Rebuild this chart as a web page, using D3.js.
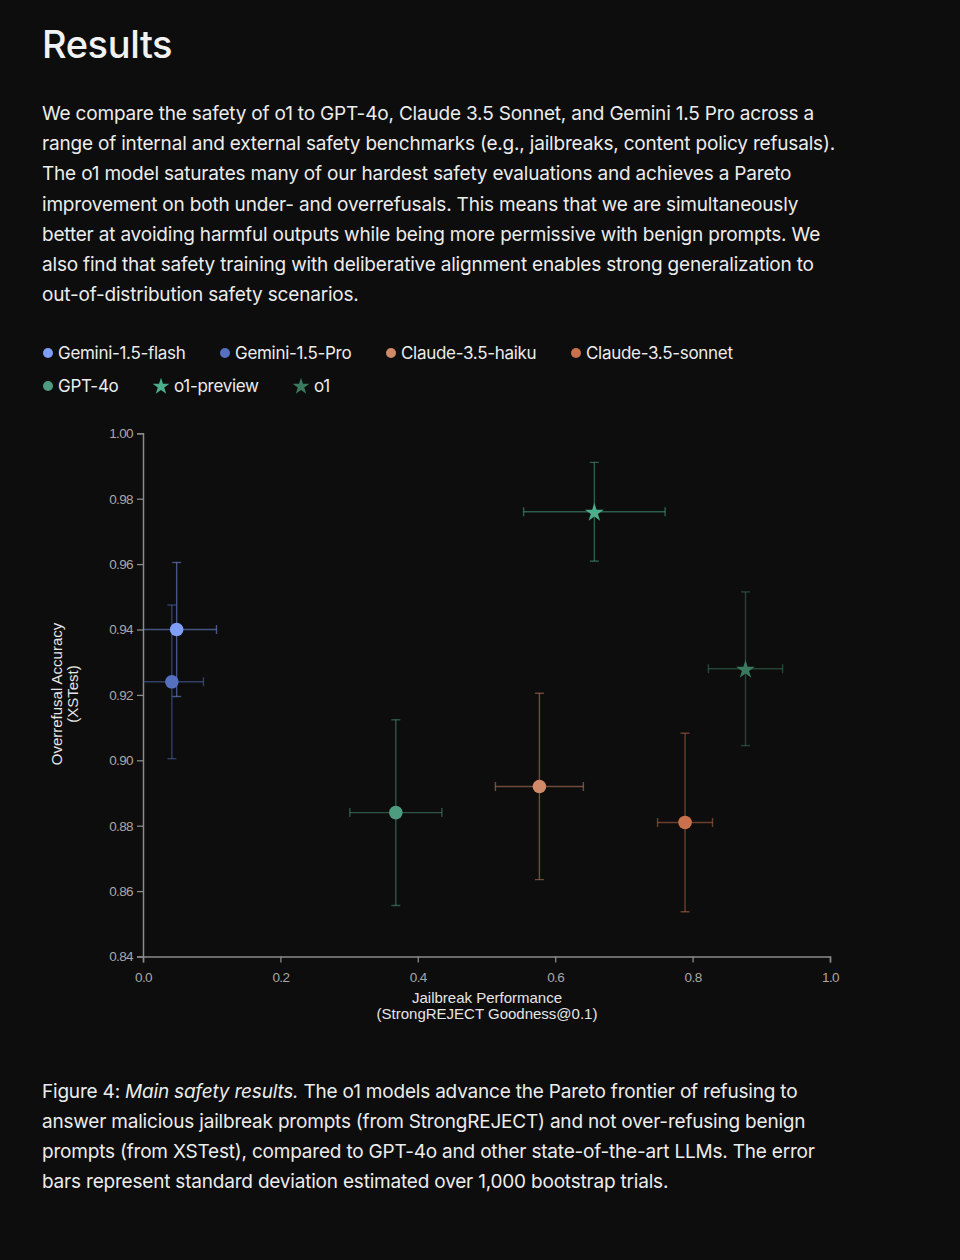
<!DOCTYPE html>
<html>
<head>
<meta charset="utf-8">
<script src="https://cdn.jsdelivr.net/npm/d3@7"></script>
<style>
  html, body { margin: 0; padding: 0; background: #0d0d0d; }
  svg { display: block; }
</style>
</head>
<body>
<svg id="chart" width="960" height="1260"></svg>
<script>
// ---- Data ----
const models = ["Gemini-1.5-flash", "Gemini-1.5-Pro", "Claude-3.5-haiku", "Claude-3.5-sonnet", "GPT-4o", "o1-preview", "o1"];
const jailbreak = [0.049, 0.042, 0.577, 0.789, 0.368, 0.657, 0.877];
const jailbreakErr = [0.058, 0.046, 0.064, 0.040, 0.067, 0.103, 0.054];
const overrefusal = [0.940, 0.924, 0.892, 0.881, 0.884, 0.976, 0.928];
const overrefusalErr = [0.0205, 0.0235, 0.0285, 0.0273, 0.0284, 0.0151, 0.0235];
const markers = ["circle", "circle", "circle", "circle", "circle", "star", "star"];
const colors = ["#7f9ef5", "#5670c0", "#d08a68", "#c9714c", "#4e9c80", "#4aaf8a", "#3a7a5e"];
const xTicks = [0.0, 0.2, 0.4, 0.6, 0.8, 1.0];
const yTicks = [0.84, 0.86, 0.88, 0.90, 0.92, 0.94, 0.96, 0.98, 1.00];

const title = "Results";
const bodyLines = [
  "We compare the safety of o1 to GPT-4o, Claude 3.5 Sonnet, and Gemini 1.5 Pro across a",
  "range of internal and external safety benchmarks (e.g., jailbreaks, content policy refusals).",
  "The o1 model saturates many of our hardest safety evaluations and achieves a Pareto",
  "improvement on both under- and overrefusals. This means that we are simultaneously",
  "better at avoiding harmful outputs while being more permissive with benign prompts. We",
  "also find that safety training with deliberative alignment enables strong generalization to",
  "out-of-distribution safety scenarios."
];
const captionLines = [
  [["Figure 4: ", "normal"], ["Main safety results.", "italic"], [" The o1 models advance the Pareto frontier of refusing to", "normal"]],
  [["answer malicious jailbreak prompts (from StrongREJECT) and not over-refusing benign", "normal"]],
  [["prompts (from XSTest), compared to GPT-4o and other state-of-the-art LLMs. The error", "normal"]],
  [["bars represent standard deviation estimated over 1,000 bootstrap trials.", "normal"]]
];

// ---- Drawing ----
const svg = d3.select("#chart");
const textFont = "Inter, 'Noto Sans', sans-serif";
const axisFont = "'Liberation Sans', Arial, sans-serif";

svg.append("rect").attr("width", 960).attr("height", 1260).attr("fill", "#0d0d0d");

svg.append("text").attr("x", 42).attr("y", 58)
  .attr("font-family", textFont).attr("font-size", 38).attr("font-weight", 500)
  .attr("letter-spacing", -0.4)
  .attr("fill", "#f2f2f2").text(title);

const body = svg.append("g").attr("font-family", textFont).attr("font-size", 19)
  .attr("fill", "#ececec").attr("letter-spacing", -0.19);
bodyLines.forEach((l, i) => {
  body.append("text").attr("x", 42).attr("y", 120 + i * 30.2).text(l);
});

// Legend
const legendPos = [[48, 353], [225, 353], [391, 353], [576, 353], [48, 386], [161, 386], [301, 386]];
const legend = svg.append("g").attr("font-family", textFont).attr("font-size", 17)
  .attr("fill", "#ececec").attr("letter-spacing", -0.3);
const starSym = d3.symbol().type(d3.symbolStar);
models.forEach((m, i) => {
  const [lx, ly] = legendPos[i];
  if (markers[i] === "circle") {
    legend.append("circle").attr("cx", lx).attr("cy", ly).attr("r", 5).attr("fill", colors[i]);
    legend.append("text").attr("x", lx + 10).attr("y", ly + 6).text(m);
  } else {
    legend.append("path").attr("d", starSym.size(88)())
      .attr("transform", `translate(${lx},${ly + 0.5})`).attr("fill", colors[i]);
    legend.append("text").attr("x", lx + 13).attr("y", ly + 6).text(m);
  }
});

// Scales
const x = d3.scaleLinear().domain([0, 1]).range([143, 830]);
const y = d3.scaleLinear().domain([0.84, 1.0]).range([956.5, 433.3]);

const axisColor = "#8a8a8a";
const tickColor = "#a8a8a8";

const xAxis = svg.append("g").attr("transform", `translate(0,${y(0.84)})`)
  .call(d3.axisBottom(x).tickValues(xTicks).tickFormat(d3.format(".1f")).tickSize(6).tickPadding(10));
const yAxis = svg.append("g").attr("transform", `translate(${x(0)},0)`)
  .call(d3.axisLeft(y).tickValues(yTicks).tickFormat(d3.format(".2f")).tickSize(6).tickPadding(4));
[xAxis, yAxis].forEach(a => {
  a.select(".domain").attr("stroke", axisColor).attr("stroke-width", 1.5);
  a.selectAll(".tick line").attr("stroke", axisColor).attr("stroke-width", 1.3);
  a.selectAll(".tick text").attr("fill", tickColor).attr("font-family", axisFont)
    .attr("font-size", 13.5).attr("letter-spacing", -0.6);
});

// Axis titles
svg.append("g").attr("font-family", axisFont).attr("font-size", 15).attr("fill", "#e6e6e6")
  .attr("text-anchor", "middle")
  .call(g => {
    g.append("text").attr("x", 487).attr("y", 1003).text("Jailbreak Performance");
    g.append("text").attr("x", 487).attr("y", 1019).text("(StrongREJECT Goodness@0.1)");
    g.append("text").attr("transform", "translate(62,694) rotate(-90)").text("Overrefusal Accuracy");
    g.append("text").attr("transform", "translate(78,694) rotate(-90)").text("(XSTest)");
  });

// Clip
svg.append("clipPath").attr("id", "plotclip").append("rect")
  .attr("x", x(0)).attr("y", y(1.0) - 5).attr("width", x(1) - x(0) + 10).attr("height", y(0.84) - y(1.0) + 5);

const plot = svg.append("g").attr("clip-path", "url(#plotclip)");
const cap = 4.5;
models.forEach((m, i) => {
  const cx = x(jailbreak[i]), cy = y(overrefusal[i]);
  const x0 = x(jailbreak[i] - jailbreakErr[i]), x1 = x(jailbreak[i] + jailbreakErr[i]);
  const y0 = y(overrefusal[i] - overrefusalErr[i]), y1 = y(overrefusal[i] + overrefusalErr[i]);
  const g = plot.append("g").attr("stroke", colors[i]).attr("stroke-opacity", 0.5).attr("stroke-width", 1.4);
  g.append("line").attr("x1", x0).attr("x2", x1).attr("y1", cy).attr("y2", cy);
  g.append("line").attr("x1", x0).attr("x2", x0).attr("y1", cy - cap).attr("y2", cy + cap);
  g.append("line").attr("x1", x1).attr("x2", x1).attr("y1", cy - cap).attr("y2", cy + cap);
  g.append("line").attr("x1", cx).attr("x2", cx).attr("y1", y0).attr("y2", y1);
  g.append("line").attr("x1", cx - cap).attr("x2", cx + cap).attr("y1", y0).attr("y2", y0);
  g.append("line").attr("x1", cx - cap).attr("x2", cx + cap).attr("y1", y1).attr("y2", y1);
});
models.forEach((m, i) => {
  const cx = x(jailbreak[i]), cy = y(overrefusal[i]);
  if (markers[i] === "circle") {
    svg.append("circle").attr("cx", cx).attr("cy", cy).attr("r", 6.8).attr("fill", colors[i]);
  } else {
    svg.append("path").attr("d", starSym.size(108)())
      .attr("transform", `translate(${cx},${cy + 1})`).attr("fill", colors[i]);
  }
});

// Caption
const cap2 = svg.append("g").attr("font-family", textFont).attr("font-size", 19)
  .attr("fill", "#ececec").attr("letter-spacing", -0.2);
captionLines.forEach((parts, i) => {
  const t = cap2.append("text").attr("x", 42).attr("y", 1098 + i * 30);
  parts.forEach(([s, st]) => t.append("tspan").attr("font-style", st).text(s));
});
</script>
</body>
</html>
